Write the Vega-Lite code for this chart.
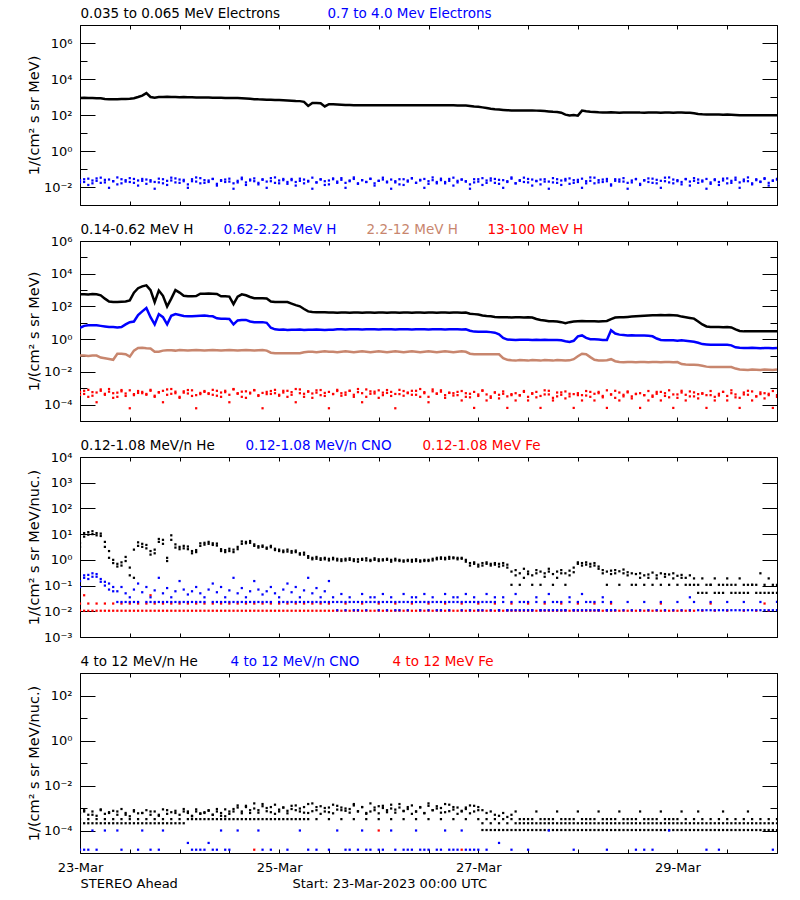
{
"$schema":"https://vega.github.io/schema/vega-lite/v6.json",
"background":"white",
"padding":{"left":25,"top":6,"right":20,"bottom":10},
"bounds":"flush",
"spacing":36,
"config":{
"font":"DejaVu Sans",
"view":{"stroke":"black","strokeWidth":1},
"axis":{"domain":false,"grid":false,"labelFont":"DejaVu Sans","labelFontSize":13,"labelColor":"black","tickColor":"black","tickWidth":1,"titleFont":"DejaVu Sans","titleFontSize":14.5,"titleFontWeight":"normal","titleColor":"black","labelOverlap":false,"labelFlush":false},
"legend":{"orient":"none","legendX":-13,"legendY":-18,"direction":"horizontal","symbolSize":0,"symbolOpacity":0,"symbolStrokeWidth":0,"labelOffset":0,"labelFont":"DejaVu Sans","labelFontSize":13.5,"labelLimit":500,"padding":0}
},
"datasets":{"d":[
{"h":0,"a":880,"b":0.024,"B":0.018,"c":550,"d":5,"e":0.1,"f":6e-4,"F":4e-4,"g":3.2,"G":4.5,"i":0.088,"I":0.15,"j":0.0105,"J":0.02,"k":6e-4,"K":3.2e-4,"L":2.1e-4,"m":1.4e-5},
{"h":1,"a":900,"b":0.019,"B":0.027,"c":560,"d":6.5,"e":0.1,"f":4.5e-4,"F":7e-4,"g":8,"G":11,"i":0.2,"I":0.25,"j":0.0105,"J":0.042,"k":8e-4,"K":7e-4,"L":2.1e-4,"m":1.4e-5},
{"h":2,"a":870,"b":0.029,"B":0.013,"c":540,"d":7,"e":0.095,"f":8e-4,"F":3e-4,"g":12,"G":9.5,"i":0.26,"I":0.18,"j":0.0105,"J":0.02,"k":5e-4,"K":3.2e-4,"L":2.1e-4,"m":1.4e-5},
{"h":3,"a":880,"b":0.016,"B":0.023,"c":570,"d":7,"e":0.1,"f":3.5e-4,"F":5.8e-4,"g":10,"G":13,"i":0.3,"I":0.22,"j":0.0105,"k":7e-4,"K":5e-4,"L":2.1e-4,"m":1e-4},
{"h":4,"a":860,"b":0.022,"B":0.03,"c":560,"d":7,"e":0.1,"f":5.5e-4,"F":1.4e-4,"g":9,"G":11,"i":0.22,"I":0.28,"j":0.0105,"J":0.02,"k":4.5e-4,"K":3.2e-4,"L":2.1e-4,"m":1.4e-5},
{"h":5,"a":850,"b":0.033,"B":0.017,"c":480,"d":6.5,"e":0.075,"f":7e-4,"F":8.5e-4,"g":10.5,"G":8.5,"i":0.18,"I":0.14,"j":0.0105,"k":8.7e-4,"K":8e-4,"L":2.1e-4},
{"h":6,"a":780,"b":0.018,"B":0.025,"c":300,"d":6,"e":0.068,"f":4e-4,"F":4.6e-4,"g":5,"G":3.2,"i":0.14,"I":0.1,"j":0.0105,"J":0.02,"k":5.5e-4,"K":3.2e-4,"L":2.1e-4,"m":1e-4},
{"h":7,"a":740,"b":0.026,"B":0.009,"c":200,"d":5.5,"e":0.062,"f":9e-4,"F":6.2e-4,"g":2.2,"G":1.2,"i":0.12,"I":0.07,"j":0.0105,"k":6.5e-4,"K":6e-4,"L":2.1e-4},
{"h":8,"a":750,"b":0.021,"B":0.021,"c":190,"d":5.5,"e":0.055,"f":5e-4,"F":2.6e-4,"g":1.0,"G":0.75,"i":0.088,"I":0.06,"j":0.0105,"J":0.02,"k":7.5e-4,"K":3.2e-4,"L":2.1e-4},
{"h":9,"a":760,"b":0.014,"B":0.034,"c":185,"d":5.2,"e":0.13,"f":3e-4,"F":5.4e-4,"g":0.7,"G":0.55,"i":0.023,"I":0.06,"j":0.0105,"k":5e-4,"K":7e-4,"L":2.1e-4,"m":1e-4},
{"h":10,"a":770,"b":0.027,"B":0.016,"c":195,"d":5.5,"e":0.13,"f":6.5e-4,"F":7.8e-4,"g":0.8,"G":0.6,"i":0.023,"I":0.088,"j":0.0105,"J":0.02,"k":9e-4,"K":3.2e-4,"L":2.1e-4,"m":1.4e-5},
{"h":11,"a":780,"b":0.02,"B":0.024,"c":200,"d":8,"e":0.12,"f":4.8e-4,"F":3.4e-4,"g":1.3,"G":0.9,"i":0.023,"I":0.05,"j":0.0105,"k":6e-4,"K":5e-4,"L":2.1e-4},
{"h":12,"a":790,"b":0.031,"B":0.019,"c":235,"d":11,"e":0.085,"f":7.5e-4,"F":6e-5,"g":0.5,"G":0.25,"i":0.023,"I":0.035,"j":0.0105,"J":0.02,"k":4.3e-4,"K":3.2e-4,"L":2.1e-4},
{"h":13,"a":850,"b":0.017,"B":0.028,"c":700,"d":12,"e":0.2,"f":3.8e-4,"F":4.4e-4,"g":0.2,"G":2.5,"i":0.023,"I":0.07,"j":0.0105,"k":7e-4,"K":8e-4,"L":2.1e-4},
{"h":14,"a":1000,"b":0.023,"B":0.012,"c":1300,"d":30,"e":0.29,"f":5.2e-4,"F":6.8e-4,"g":3.5,"G":4.8,"i":0.023,"I":0.12,"j":0.0105,"J":0.02,"k":5.8e-4,"K":3.2e-4,"L":2.1e-4,"m":1.4e-5},
{"h":15,"a":1200,"b":0.028,"B":0.022,"c":1700,"d":50,"e":0.3,"f":6e-4,"F":5e-4,"g":3.2,"G":4.2,"I":0.055,"j":0.0105,"k":6e-4,"K":6e-4,"L":2.1e-4,"m":1e-4},
{"h":16,"a":1650,"b":0.015,"B":0.026,"c":1950,"d":80,"e":0.28,"f":4.5e-4,"F":4e-4,"g":3.8,"G":2.8,"i":0.023,"I":0.088,"j":0.0105,"J":0.02,"k":8e-4,"K":3.2e-4,"L":2.1e-4},
{"h":17,"a":1000,"b":0.024,"B":0.02,"c":1000,"d":22,"e":0.27,"f":8e-4,"F":7e-4,"g":2.2,"G":1.6,"i":0.023,"I":0.035,"j":0.0105,"J":0.042,"k":5e-4,"K":7e-4,"L":2.1e-4,"m":1.4e-5},
{"h":18,"a":920,"b":0.019,"B":0.008,"c":180,"d":8,"e":0.17,"f":3.5e-4,"F":3e-4,"g":1.8,"G":2.5,"i":0.023,"I":0.065,"j":0.0105,"J":0.02,"k":7e-4,"K":3.2e-4,"L":2.1e-4},
{"h":19,"a":990,"b":0.029,"B":0.018,"c":950,"d":34,"e":0.17,"f":5.5e-4,"F":5.8e-4,"g":5,"G":6.5,"i":0.023,"I":0.2,"j":0.0105,"k":4.5e-4,"K":5e-4,"L":2.1e-4,"m":1.4e-5},
{"h":20,"a":1010,"b":0.016,"B":0.027,"c":450,"d":22,"e":0.2,"f":7e-4,"F":1.4e-4,"g":6,"G":4.2,"i":0.023,"I":0.05,"j":0.0105,"J":0.02,"k":8.7e-4,"K":3.2e-4,"L":2.1e-4,"m":1e-4},
{"h":21,"a":1040,"b":0.022,"B":0.013,"c":100,"d":8,"e":0.21,"f":4e-4,"F":8.5e-4,"g":1.2,"G":0.9,"i":0.023,"I":0.08,"j":0.0105,"k":5.5e-4,"K":8e-4,"L":2.1e-4},
{"h":22,"a":1000,"b":0.033,"B":0.023,"c":300,"d":27,"e":0.21,"f":9e-4,"F":4.6e-4,"g":9,"G":6,"i":0.023,"I":0.035,"j":0.0105,"J":0.02,"k":6.5e-4,"K":3.2e-4,"L":2.1e-4},
{"h":23,"a":990,"b":0.018,"B":0.03,"c":1000,"d":34,"e":0.2,"f":5e-4,"F":6.2e-4,"g":4,"G":3,"i":0.023,"I":0.06,"j":0.0105,"k":7.5e-4,"K":6e-4,"L":2.1e-4},
{"h":24,"a":980,"b":0.026,"B":0.017,"c":700,"d":30,"e":0.22,"f":3e-4,"F":2.6e-4,"g":3.2,"G":2.6,"i":0.023,"I":0.15,"j":0.0105,"J":0.02,"k":5e-4,"K":3.2e-4,"L":2.1e-4},
{"h":25,"a":990,"b":0.021,"B":0.025,"c":450,"d":26,"e":0.21,"f":6.5e-4,"F":5.4e-4,"g":3.5,"G":2.8,"i":0.023,"I":0.07,"j":0.0105,"k":9e-4,"K":7e-4,"L":2.1e-4},
{"h":26,"a":970,"b":0.014,"B":0.009,"c":420,"d":25,"e":0.2,"f":4.8e-4,"F":7.8e-4,"g":2.6,"G":3.3,"i":0.023,"I":0.045,"j":0.0105,"J":0.02,"k":6e-4,"K":7e-4,"L":3.2e-4,"m":2.8e-5},
{"h":27,"a":960,"b":0.027,"B":0.021,"c":420,"d":25,"e":0.21,"f":7.5e-4,"F":3.4e-4,"g":2.2,"G":1.8,"i":0.023,"I":0.06,"j":0.0105,"k":4.3e-4,"K":4.5e-4,"L":3.2e-4,"m":1.4e-5},
{"h":28,"a":950,"b":0.02,"B":0.034,"c":430,"d":26,"e":0.22,"f":3.8e-4,"F":6e-5,"g":2.4,"G":2.0,"i":0.023,"I":0.088,"j":0.0105,"J":0.02,"k":7e-4,"K":8.7e-4,"L":3.2e-4,"m":1.4e-5},
{"h":29,"a":950,"b":0.031,"B":0.016,"c":600,"d":27,"e":0.21,"f":5.2e-4,"F":4.4e-4,"g":3.5,"G":4.4,"i":0.023,"I":0.05,"j":0.0105,"k":5.8e-4,"K":5.5e-4,"L":3.2e-4,"m":1.4e-5},
{"h":30,"a":940,"b":0.017,"B":0.024,"c":600,"d":28,"e":0.2,"f":6e-4,"F":6.8e-4,"g":4.6,"G":3.9,"i":0.023,"I":0.035,"j":0.0105,"J":0.02,"k":6e-4,"K":6.5e-4,"L":3.2e-4,"m":1.4e-5},
{"h":31,"a":930,"b":0.023,"B":0.019,"c":620,"d":26,"e":0.21,"f":4.5e-4,"F":5e-4,"g":4.2,"G":5.0,"I":0.07,"j":0.0105,"k":8e-4,"K":7.5e-4,"L":3.2e-4,"m":2.8e-5},
{"h":32,"a":920,"b":0.028,"B":0.028,"c":600,"d":25,"e":0.22,"f":8e-4,"F":4e-4,"g":4.4,"G":3.8,"i":0.023,"I":0.12,"j":0.0105,"J":0.02,"k":5e-4,"K":5e-4,"L":3.2e-4,"m":1.4e-5},
{"h":33,"a":910,"b":0.015,"B":0.012,"c":580,"d":19,"e":0.21,"f":3.5e-4,"F":7e-4,"g":3.6,"G":4.3,"i":0.023,"I":0.055,"j":0.0105,"k":7e-4,"K":9e-4,"L":3.2e-4,"m":1.4e-5},
{"h":34,"a":900,"b":0.024,"B":0.022,"c":420,"d":18,"e":0.2,"f":5.5e-4,"F":3e-4,"g":2.6,"G":2.2,"i":0.023,"I":0.088,"j":0.0105,"J":0.02,"k":4.5e-4,"K":6e-4,"L":3.2e-4,"m":1e-4},
{"h":35,"a":890,"b":0.019,"B":0.026,"c":420,"d":18,"e":0.21,"f":7e-4,"F":5.8e-4,"g":2.4,"G":2.0,"i":0.023,"I":0.035,"j":0.0105,"k":8.7e-4,"K":4.3e-4,"L":3.2e-4,"m":1.4e-5},
{"h":36,"a":890,"b":0.029,"B":0.02,"c":400,"d":17,"e":0.22,"f":4e-4,"F":1.4e-4,"g":2.2,"G":2.7,"i":0.023,"I":0.065,"j":0.0105,"J":0.02,"k":5.5e-4,"K":7e-4,"L":3.2e-4,"m":1.4e-5},
{"h":37,"a":880,"b":0.016,"B":0.008,"c":140,"d":8,"e":0.21,"f":9e-4,"F":8.5e-4,"g":2.0,"G":2.5,"i":0.023,"I":0.2,"j":0.0105,"k":9e-4,"K":7e-4,"L":3.2e-4},
{"h":38,"a":870,"b":0.022,"B":0.018,"c":400,"d":14,"e":0.2,"f":5e-4,"F":4.6e-4,"g":2.6,"G":3.2,"i":0.023,"I":0.05,"j":0.0105,"J":0.02,"k":1.3e-3,"K":1.05e-3,"L":3.2e-4,"m":1e-4},
{"h":39,"a":850,"b":0.033,"B":0.027,"c":550,"d":15,"e":0.21,"f":3e-4,"F":6.2e-4,"g":4.2,"G":5.2,"i":0.023,"I":0.08,"j":0.0105,"k":7e-4,"K":5.8e-4,"L":3.2e-4},
{"h":40,"a":820,"b":0.018,"B":0.013,"c":480,"d":15,"e":0.22,"f":6.5e-4,"F":2.6e-4,"g":5.0,"G":4.4,"i":0.023,"I":0.035,"j":0.0105,"J":0.02,"k":1.1e-3,"K":1.25e-3,"L":3.2e-4},
{"h":41,"a":790,"b":0.026,"B":0.023,"c":380,"d":12,"e":0.21,"f":4.8e-4,"F":5.4e-4,"g":4.6,"G":5.4,"i":0.023,"I":0.06,"j":0.0105,"k":6e-4,"K":8e-4,"L":3.2e-4},
{"h":42,"a":760,"b":0.021,"B":0.03,"c":320,"d":11,"e":0.2,"f":7.5e-4,"F":7.8e-4,"g":4.0,"G":3.5,"i":0.023,"I":0.15,"j":0.0105,"J":0.02,"k":1.6e-3,"K":9.5e-4,"L":3.2e-4,"n":1.4e-5},
{"h":43,"a":740,"b":0.014,"B":0.017,"c":320,"d":11,"e":0.21,"f":3.8e-4,"F":3.4e-4,"g":3.4,"G":3.0,"i":0.023,"I":0.07,"j":0.0105,"k":8e-4,"K":6.2e-4,"L":3.2e-4,"m":1e-4},
{"h":44,"a":730,"b":0.027,"B":0.025,"c":320,"d":11,"e":0.22,"f":5.2e-4,"F":6e-5,"g":3.2,"G":3.6,"i":0.023,"I":0.045,"j":0.0105,"J":0.02,"k":1.2e-3,"K":1.5e-3,"L":3.2e-4,"m":1.4e-5},
{"h":45,"a":710,"b":0.02,"B":0.009,"c":310,"d":10,"e":0.2,"f":6e-4,"F":4.4e-4,"g":3.0,"G":2.7,"i":0.023,"I":0.06,"j":0.0105,"k":1e-3,"K":7.2e-4,"L":3.2e-4},
{"h":46,"a":700,"b":0.031,"B":0.021,"c":200,"d":5,"e":0.15,"f":4.5e-4,"F":6.8e-4,"g":3.1,"G":3.5,"i":0.023,"I":0.088,"j":0.0105,"J":0.02,"k":6.5e-4,"K":1.1e-3,"L":3.2e-4,"m":1.4e-5},
{"h":47,"a":690,"b":0.017,"B":0.034,"c":190,"d":4,"e":0.14,"f":8e-4,"F":5e-4,"g":2.7,"G":2.4,"I":0.05,"j":0.0105,"k":1.4e-3,"K":5.5e-4,"L":3.2e-4},
{"h":48,"a":680,"b":0.023,"B":0.016,"c":190,"d":3.8,"e":0.14,"f":3.5e-4,"F":4e-4,"g":2.5,"G":2.2,"i":0.023,"I":0.035,"j":0.0105,"J":0.02,"k":8.5e-4,"K":7e-4,"L":3.2e-4},
{"h":49,"a":660,"b":0.028,"B":0.024,"c":190,"d":3.9,"e":0.14,"f":5.5e-4,"F":7e-4,"g":2.3,"G":2.0,"i":0.023,"I":0.07,"j":0.0105,"k":1.05e-3,"K":1.05e-3,"L":3.2e-4},
{"h":50,"a":640,"b":0.015,"B":0.019,"c":185,"d":3.7,"e":0.14,"f":7e-4,"F":3e-4,"g":2.1,"G":2.5,"i":0.023,"I":0.12,"j":0.0105,"J":0.02,"k":7.5e-4,"K":5.8e-4,"L":3.2e-4,"m":1.4e-5},
{"h":51,"a":620,"b":0.024,"B":0.028,"c":150,"d":3.8,"e":0.14,"f":4e-4,"F":5.8e-4,"g":2.2,"G":1.9,"i":0.023,"I":0.055,"j":0.0105,"k":9e-4,"K":1.25e-3,"L":3.2e-4},
{"h":52,"a":600,"b":0.019,"B":0.012,"c":120,"d":3.8,"e":0.14,"f":9e-4,"F":1.4e-4,"g":2.0,"G":2.3,"i":0.023,"I":0.088,"j":0.0105,"J":0.02,"k":1.3e-3,"K":8e-4,"L":3.2e-4},
{"h":53,"a":590,"b":0.029,"B":0.022,"c":102,"d":3.9,"e":0.14,"f":5e-4,"F":8.5e-4,"g":1.8,"G":1.6,"i":0.023,"I":0.035,"j":0.0105,"k":7e-4,"K":9.5e-4,"L":3.2e-4,"m":1e-4},
{"h":54,"a":540,"b":0.016,"B":0.026,"c":70,"d":3.7,"e":0.16,"f":3e-4,"F":4.6e-4,"g":1.6,"G":1.9,"i":0.023,"I":0.065,"j":0.0105,"J":0.02,"k":1.1e-3,"K":6.2e-4,"L":3.2e-4},
{"h":55,"a":320,"b":0.022,"B":0.02,"c":50,"d":3.8,"e":0.17,"f":6.5e-4,"F":6.2e-4,"g":1.4,"G":1.2,"i":0.023,"I":0.2,"j":0.0105,"k":6e-4,"K":1.5e-3,"L":3.2e-4,"m":1.4e-5},
{"h":56,"a":470,"b":0.033,"B":0.008,"c":46,"d":3.8,"e":0.17,"f":4.8e-4,"F":2.6e-4,"g":1.2,"G":1.05,"i":0.023,"I":0.05,"j":0.0105,"J":0.02,"k":1.6e-3,"K":7.2e-4},
{"h":57,"a":460,"b":0.018,"B":0.018,"c":45,"d":3.9,"e":0.16,"f":7.5e-4,"F":5.4e-4,"g":1.1,"G":1.3,"i":0.023,"I":0.08,"j":0.0105,"k":8e-4,"K":1.1e-3,"L":3.2e-4,"m":1.4e-5},
{"h":58,"a":450,"b":0.026,"B":0.027,"c":44,"d":3.8,"e":0.17,"f":3.8e-4,"F":7.8e-4,"g":1.15,"G":1.0,"i":0.023,"I":0.035,"j":0.0105,"J":0.02,"k":1.2e-3,"K":5.5e-4},
{"h":59,"a":300,"b":0.021,"B":0.013,"c":44,"d":3.7,"e":0.18,"f":5.2e-4,"F":3.4e-4,"g":1.2,"G":1.05,"i":0.023,"I":0.06,"j":0.0105,"k":1e-3,"K":7e-4},
{"h":60,"a":400,"b":0.014,"B":0.023,"c":43,"d":3.8,"e":0.17,"f":6e-4,"F":6e-5,"g":1.1,"G":0.95,"i":0.023,"I":0.15,"j":0.0105,"J":0.02,"k":6.5e-4,"K":1.05e-3,"L":3.2e-4,"m":1.4e-5},
{"h":61,"a":390,"b":0.027,"B":0.03,"c":42,"d":3.8,"e":0.17,"f":4.5e-4,"F":4.4e-4,"g":1.05,"G":1.2,"i":0.023,"I":0.035,"j":0.0105,"k":1.4e-3,"K":5.8e-4},
{"h":62,"a":380,"b":0.02,"B":0.017,"c":41,"d":4,"e":0.16,"f":8e-4,"F":6.8e-4,"g":0.95,"G":1.1,"i":0.023,"I":0.011,"j":0.0105,"k":8.5e-4,"K":1.25e-3,"m":1e-4},
{"h":63,"a":370,"b":0.031,"B":0.025,"c":43,"d":4.1,"e":0.17,"f":3.5e-4,"F":5e-4,"g":1.05,"G":0.9,"i":0.023,"I":0.047,"j":0.0105,"k":1.05e-3,"K":8e-4,"L":3.2e-4},
{"h":64,"a":360,"b":0.017,"B":0.009,"c":42,"d":3.9,"e":0.18,"f":5.5e-4,"F":4e-4,"g":1.1,"G":0.95,"i":0.023,"I":0.011,"j":0.0105,"J":0.02,"k":7.5e-4,"K":9.5e-4,"m":1.4e-5},
{"h":65,"a":355,"b":0.023,"B":0.021,"c":41,"d":4,"e":0.17,"f":7e-4,"F":7e-4,"g":1.0,"G":1.15,"i":0.023,"I":0.035,"j":0.0105,"k":9e-4,"K":6.2e-4,"m":1.4e-5},
{"h":66,"a":350,"b":0.028,"B":0.034,"c":43,"d":4.1,"e":0.16,"f":4e-4,"F":3e-4,"g":0.9,"G":1.05,"i":0.023,"I":0.011,"j":0.0105,"k":1.3e-3,"K":1.5e-3,"L":3.2e-4},
{"h":67,"a":350,"b":0.015,"B":0.016,"c":42,"d":4,"e":0.17,"f":9e-4,"F":5.8e-4,"g":1.05,"G":0.85,"i":0.023,"I":0.011,"j":0.0105,"k":7e-4,"K":7.2e-4,"m":1.4e-5},
{"h":68,"a":348,"b":0.024,"B":0.024,"c":41,"d":3.9,"e":0.18,"f":5e-4,"F":1.4e-4,"g":1.1,"G":1.0,"i":0.023,"I":0.047,"j":0.0105,"J":0.02,"k":1.1e-3,"K":1.1e-3,"m":1e-4},
{"h":69,"a":352,"b":0.019,"B":0.019,"c":43,"d":4,"e":0.17,"f":3e-4,"F":8.5e-4,"g":0.95,"G":1.15,"i":0.023,"I":0.011,"j":0.0105,"k":6e-4,"K":5.5e-4,"L":3.2e-4,"m":1.4e-5},
{"h":70,"a":350,"b":0.029,"B":0.028,"c":42,"d":4.1,"e":0.16,"f":6.5e-4,"F":4.6e-4,"g":1.0,"G":0.9,"i":0.023,"I":0.035,"j":0.0105,"k":1.6e-3,"K":7e-4,"m":1.4e-5},
{"h":71,"a":346,"b":0.016,"B":0.012,"c":41,"d":4,"e":0.17,"f":4.8e-4,"F":6.2e-4,"g":1.15,"G":1.0,"i":0.023,"I":0.035,"j":0.0105,"k":8e-4,"K":1.05e-3},
{"h":72,"a":350,"b":0.022,"B":0.022,"c":43,"d":3.9,"e":0.18,"f":7.5e-4,"F":2.6e-4,"g":0.9,"G":1.05,"i":0.023,"I":0.011,"j":0.0105,"J":0.02,"k":1.2e-3,"K":5.8e-4,"L":3.2e-4,"m":1.4e-5,"n":1e-4},
{"h":73,"a":352,"b":0.033,"B":0.026,"c":42,"d":4,"e":0.17,"f":3.8e-4,"F":5.4e-4,"g":1.05,"G":0.95,"i":0.023,"I":0.047,"j":0.0105,"k":1e-3,"K":1.25e-3,"m":1.4e-5},
{"h":74,"a":348,"b":0.018,"B":0.02,"c":41,"d":4.1,"e":0.16,"f":5.2e-4,"F":7.8e-4,"g":1.0,"G":1.1,"i":0.023,"I":0.011,"j":0.0105,"k":6.5e-4,"K":8e-4},
{"h":75,"a":350,"b":0.026,"B":0.008,"c":43,"d":4,"e":0.17,"f":6e-4,"F":3.4e-4,"g":0.85,"G":1.0,"i":0.023,"I":0.035,"j":0.0105,"k":1.4e-3,"K":9.5e-4,"L":3.2e-4,"m":1e-4},
{"h":76,"a":350,"b":0.021,"B":0.018,"c":42,"d":3.9,"e":0.18,"f":4.5e-4,"F":6e-5,"g":1.1,"G":0.95,"i":0.023,"I":0.011,"j":0.0105,"J":0.02,"k":8.5e-4,"K":6.2e-4,"m":1.4e-5},
{"h":77,"a":346,"b":0.014,"B":0.027,"c":41,"d":4,"e":0.17,"f":8e-4,"F":4.4e-4,"g":1.0,"G":0.9,"i":0.023,"I":0.011,"j":0.0105,"k":1.05e-3,"K":1.5e-3},
{"h":78,"a":350,"b":0.027,"B":0.013,"c":43,"d":4.1,"e":0.16,"f":3.5e-4,"F":6.8e-4,"g":0.95,"G":0.85,"i":0.023,"I":0.047,"j":0.0105,"k":7.5e-4,"K":7.2e-4,"L":3.2e-4,"m":1.4e-5},
{"h":79,"a":352,"b":0.02,"B":0.023,"c":42,"d":4,"e":0.17,"f":5.5e-4,"F":5e-4,"g":0.9,"G":1.0,"i":0.023,"I":0.011,"j":0.0105,"k":9e-4,"K":1.1e-3,"m":1.4e-5},
{"h":80,"a":348,"b":0.031,"B":0.03,"c":41,"d":3.9,"e":0.18,"f":7e-4,"F":4e-4,"g":1.0,"G":0.85,"i":0.023,"I":0.035,"j":0.0105,"J":0.02,"k":1.3e-3,"K":5.5e-4,"m":1.4e-5},
{"h":81,"a":350,"b":0.017,"B":0.017,"c":43,"d":4,"e":0.17,"f":4e-4,"F":7e-4,"g":0.9,"G":1.05,"i":0.023,"I":0.035,"j":0.0105,"k":7e-4,"K":7e-4,"L":3.2e-4,"m":1e-4},
{"h":82,"a":345,"b":0.023,"B":0.025,"c":42,"d":4.1,"e":0.16,"f":9e-4,"F":3e-4,"g":0.95,"G":0.85,"i":0.023,"I":0.011,"j":0.0105,"k":1.1e-3,"K":1.05e-3,"m":1.4e-5},
{"h":83,"a":350,"b":0.028,"B":0.009,"c":41,"d":4,"e":0.17,"f":5e-4,"F":5.8e-4,"g":1.0,"G":0.9,"i":0.023,"I":0.047,"j":0.0105,"k":6e-4,"K":5.8e-4,"m":1.4e-5},
{"h":84,"a":352,"b":0.015,"B":0.021,"c":43,"d":3.9,"e":0.18,"f":3e-4,"F":1.4e-4,"g":0.9,"G":1.0,"i":0.023,"I":0.011,"j":0.0105,"J":0.02,"k":1.6e-3,"K":1.25e-3,"L":3.2e-4,"m":1.4e-5},
{"h":85,"a":348,"b":0.024,"B":0.034,"c":42,"d":4,"e":0.17,"f":6.5e-4,"F":8.5e-4,"g":0.95,"G":1.1,"i":0.023,"I":0.035,"j":0.0105,"k":8e-4,"K":8e-4},
{"h":86,"a":345,"b":0.019,"B":0.016,"c":41,"d":4.1,"e":0.16,"f":4.8e-4,"F":4.6e-4,"g":1.2,"G":1.05,"i":0.023,"I":0.011,"j":0.0105,"k":1.2e-3,"K":9.5e-4,"m":1.4e-5},
{"h":87,"a":350,"b":0.029,"B":0.024,"c":43,"d":4,"e":0.17,"f":7.5e-4,"F":6.2e-4,"g":1.1,"G":1.25,"i":0.023,"I":0.011,"j":0.0105,"k":1e-3,"K":6.2e-4,"L":3.2e-4,"m":1.4e-5},
{"h":88,"a":348,"b":0.016,"B":0.019,"c":42,"d":3.9,"e":0.18,"f":3.8e-4,"F":2.6e-4,"g":1.2,"G":1.05,"i":0.023,"I":0.047,"j":0.0105,"J":0.02,"k":6.5e-4,"K":1.5e-3,"m":1e-4},
{"h":89,"a":346,"b":0.022,"B":0.028,"c":41,"d":4,"e":0.17,"f":5.2e-4,"F":5.4e-4,"g":1.3,"G":1.1,"i":0.023,"I":0.011,"j":0.0105,"k":1.4e-3,"K":7.2e-4,"m":1.4e-5},
{"h":90,"a":345,"b":0.033,"B":0.012,"c":43,"d":4.1,"e":0.16,"f":5e-4,"F":3.6e-4,"g":1.15,"G":1.25,"i":0.023,"I":0.035,"j":0.0105,"k":8.5e-4,"K":1.1e-3,"L":3.2e-4,"m":1.4e-5},
{"h":91,"a":342,"b":0.018,"B":0.022,"c":42,"d":4,"e":0.17,"f":3.8e-4,"F":6e-4,"g":1.2,"G":1.05,"i":0.023,"I":0.035,"j":0.0105,"k":1.05e-3,"K":5.5e-4,"m":1.4e-5},
{"h":92,"a":340,"b":0.026,"B":0.026,"c":41,"d":3.9,"e":0.18,"f":6.8e-4,"F":1.8e-4,"g":1.1,"G":1.2,"i":0.023,"I":0.011,"j":0.0105,"J":0.02,"k":7.5e-4,"K":7e-4,"m":1e-4,"n":1.4e-5},
{"h":93,"a":335,"b":0.021,"B":0.02,"c":42,"d":4,"e":0.17,"f":3e-4,"F":5e-4,"g":1.0,"G":0.85,"i":0.023,"I":0.047,"j":0.0105,"k":9e-4,"K":1.05e-3,"L":3.2e-4,"m":1.4e-5},
{"h":94,"a":320,"b":0.014,"B":0.008,"c":36,"d":3.3,"e":0.13,"f":4.6e-4,"F":2.8e-4,"g":0.75,"G":0.6,"i":0.023,"I":0.011,"j":0.0105,"k":1.3e-3,"K":5.8e-4,"m":1.4e-5},
{"h":95,"a":300,"b":0.027,"B":0.018,"c":34,"d":2.9,"e":0.12,"f":6e-4,"F":6.3e-5,"g":0.7,"G":0.8,"i":0.023,"I":0.035,"j":0.0105,"k":7e-4,"K":1.25e-3,"m":1.4e-5},
{"h":96,"a":285,"b":0.02,"B":0.027,"c":32,"d":2.8,"e":0.12,"f":3.4e-4,"F":4.2e-4,"g":0.65,"G":0.55,"i":0.023,"I":0.011,"j":0.0105,"J":0.02,"k":1.1e-3,"K":8e-4,"L":3.2e-4,"m":1.4e-5},
{"h":97,"a":265,"b":0.031,"B":0.013,"c":28,"d":2.8,"e":0.12,"f":7.5e-4,"F":7e-4,"g":0.75,"G":0.6,"i":0.023,"I":0.011,"j":0.0105,"k":8e-4,"K":2.1e-4,"L":1.05e-4},
{"h":98,"a":245,"b":0.017,"B":0.023,"c":26,"d":2.8,"e":0.12,"f":4.2e-4,"F":1.8e-4,"g":0.7,"G":0.8,"i":0.023,"I":0.047,"j":0.0105,"k":6e-4,"K":3.2e-4,"L":1.05e-4,"m":1.4e-5},
{"h":99,"a":225,"b":0.023,"B":0.03,"c":25,"d":2.7,"e":0.12,"f":2.6e-4,"F":3.2e-4,"g":0.6,"G":0.7,"i":0.023,"I":0.011,"j":0.0105,"k":7e-4,"K":2.1e-4,"L":1.05e-4},
{"h":100,"a":210,"b":0.028,"B":0.017,"c":23,"d":2.5,"e":0.12,"f":5.5e-4,"F":5.6e-4,"g":0.75,"G":0.65,"i":0.023,"I":0.035,"j":0.0105,"J":0.02,"k":5e-4,"K":3.2e-4,"L":1.05e-4},
{"h":101,"a":200,"b":0.015,"B":0.025,"c":22,"d":2,"e":0.12,"f":4e-4,"F":2.4e-4,"g":0.7,"G":0.55,"i":0.011,"I":0.011,"j":0.0105,"k":4.5e-4,"K":2.1e-4,"L":1.05e-4,"m":2.8e-5},
{"h":102,"a":192,"b":0.024,"B":0.009,"c":22,"d":1.2,"e":0.07,"f":6.4e-4,"F":4.6e-4,"g":0.6,"G":0.75,"i":0.023,"I":0.035,"j":0.0105,"k":6e-4,"K":3.2e-4,"L":1.05e-4},
{"h":103,"a":185,"b":0.019,"B":0.021,"c":22,"d":0.95,"e":0.055,"f":3.2e-4,"F":6.3e-5,"g":0.5,"G":0.65,"i":0.011,"I":0.011,"j":0.0105,"k":4e-4,"K":2.1e-4,"L":1.05e-4},
{"h":104,"a":180,"b":0.029,"B":0.034,"c":21,"d":0.93,"e":0.051,"f":4.4e-4,"F":3.8e-4,"g":0.35,"G":0.107,"i":0.023,"I":0.011,"j":0.0105,"J":0.02,"k":5e-4,"K":3.2e-4,"L":1.05e-4,"m":1.4e-5},
{"h":105,"a":180,"b":0.016,"B":0.016,"c":22,"d":0.9,"e":0.049,"f":5e-4,"F":1.8e-4,"g":0.4,"G":0.25,"i":0.011,"I":0.047,"j":0.0105,"k":2.1e-4,"K":7e-4,"L":1.05e-4},
{"h":106,"a":178,"b":0.022,"B":0.024,"c":22,"d":0.93,"e":0.053,"f":3.8e-4,"F":3.6e-4,"g":0.3,"G":0.107,"i":0.023,"I":0.011,"j":0.0105,"k":2.1e-4,"K":3.2e-4,"L":1.05e-4},
{"h":107,"a":176,"b":0.033,"B":0.019,"c":21,"d":0.92,"e":0.051,"f":6.8e-4,"F":6e-4,"g":0.45,"G":0.2,"i":0.011,"I":0.023,"j":0.0105,"k":2.1e-4,"K":3.2e-4,"L":1.05e-4},
{"h":108,"a":178,"b":0.018,"B":0.028,"c":22,"d":0.93,"e":0.049,"f":3e-4,"F":1.8e-4,"g":0.35,"G":0.28,"i":0.023,"I":0.011,"j":0.0105,"J":0.02,"k":2.1e-4,"K":3.2e-4,"L":1.05e-4,"m":1.4e-5},
{"h":109,"a":176,"b":0.026,"B":0.012,"c":21,"d":0.9,"e":0.053,"f":4.6e-4,"F":5e-4,"g":0.25,"G":0.107,"i":0.011,"I":0.011,"j":0.0105,"k":2.1e-4,"K":3.2e-4,"L":1.05e-4},
{"h":110,"a":175,"b":0.021,"B":0.022,"c":17,"d":0.92,"e":0.051,"f":6e-4,"F":2.8e-4,"g":0.4,"G":0.3,"i":0.023,"I":0.035,"j":0.0105,"k":2.1e-4,"K":7e-4,"L":1.05e-4},
{"h":111,"a":172,"b":0.014,"B":0.026,"c":15,"d":0.9,"e":0.049,"f":3.4e-4,"F":6.3e-5,"g":0.35,"G":0.107,"i":0.011,"I":0.011,"j":0.0105,"k":2.1e-4,"K":3.2e-4,"L":1.05e-4},
{"h":112,"a":165,"b":0.027,"B":0.02,"c":14,"d":0.92,"e":0.053,"f":7.5e-4,"F":4.2e-4,"g":0.3,"G":0.22,"i":0.023,"I":0.011,"j":0.0105,"J":0.02,"k":2.1e-4,"K":3.2e-4,"L":1.05e-4},
{"h":113,"a":158,"b":0.02,"B":0.008,"c":12.5,"d":0.9,"e":0.051,"f":4.2e-4,"F":7e-4,"g":0.45,"G":0.35,"i":0.011,"I":0.047,"j":0.0105,"k":2.1e-4,"K":3.2e-4,"L":1.05e-4,"m":1e-4},
{"h":114,"a":152,"b":0.031,"B":0.018,"c":12.5,"d":0.88,"e":0.049,"f":2.6e-4,"F":1.8e-4,"g":0.28,"G":0.107,"i":0.023,"I":0.011,"j":0.0105,"k":2.1e-4,"K":3.2e-4,"L":1.05e-4},
{"h":115,"a":148,"b":0.017,"B":0.027,"c":12,"d":0.9,"e":0.053,"f":5.5e-4,"F":3.2e-4,"g":0.35,"G":0.2,"i":0.011,"I":0.023,"j":0.0105,"k":2.1e-4,"K":7e-4,"L":1.05e-4},
{"h":116,"a":135,"b":0.023,"B":0.013,"c":11,"d":0.85,"e":0.051,"f":4e-4,"F":5.6e-4,"g":0.4,"G":0.3,"i":0.023,"I":0.011,"j":0.0105,"J":0.02,"k":2.1e-4,"K":3.2e-4,"L":1.05e-4},
{"h":117,"a":105,"b":0.028,"B":0.023,"c":9.5,"d":0.75,"e":0.049,"f":6.4e-4,"F":2.4e-4,"g":0.3,"G":0.107,"i":0.011,"I":0.011,"j":0.0105,"k":2.1e-4,"K":3.2e-4,"L":1.05e-4},
{"h":118,"a":95,"b":0.015,"B":0.03,"c":11,"d":0.68,"e":0.051,"f":3.2e-4,"F":4.6e-4,"g":0.38,"G":0.25,"i":0.023,"I":0.035,"j":0.0105,"k":2.1e-4,"K":3.2e-4,"L":1.05e-4},
{"h":119,"a":100,"b":0.024,"B":0.017,"c":12,"d":0.8,"e":0.06,"f":4.4e-4,"F":6.3e-5,"g":0.5,"G":0.33,"i":0.011,"I":0.011,"j":0.0105,"k":2.1e-4,"K":3.2e-4,"L":1.05e-4,"m":1.4e-5},
{"h":120,"a":92,"b":0.019,"B":0.025,"c":12.5,"d":1.5,"e":0.09,"f":5e-4,"F":3.8e-4,"g":0.7,"G":0.8,"i":0.023,"I":0.011,"j":0.0105,"J":0.02,"k":2.1e-4,"K":7e-4,"L":1.05e-4},
{"h":121,"a":175,"b":0.029,"B":0.009,"c":13,"d":1.7,"e":0.13,"f":3.8e-4,"F":1.8e-4,"g":0.75,"G":0.6,"i":0.011,"I":0.047,"j":0.0105,"k":2.1e-4,"K":3.2e-4,"L":1.05e-4},
{"h":122,"a":160,"b":0.016,"B":0.021,"c":12.5,"d":1.2,"e":0.12,"f":6.8e-4,"F":3.6e-4,"g":0.8,"G":0.65,"i":0.023,"I":0.011,"j":0.0105,"k":2.1e-4,"K":3.2e-4,"L":1.05e-4},
{"h":123,"a":150,"b":0.022,"B":0.034,"c":12.5,"d":1.0,"e":0.08,"f":3e-4,"F":6e-4,"g":0.7,"G":0.55,"i":0.011,"I":0.023,"j":0.0105,"k":2.1e-4,"K":3.2e-4,"L":1.05e-4},
{"h":124,"a":145,"b":0.033,"B":0.016,"c":12.5,"d":1.0,"e":0.055,"f":4.6e-4,"F":1.8e-4,"g":0.6,"G":0.75,"i":0.023,"I":0.011,"j":0.0105,"J":0.02,"k":2.1e-4,"K":3.2e-4,"L":1.05e-4},
{"h":125,"a":140,"b":0.018,"B":0.024,"c":12,"d":0.95,"e":0.05,"f":6e-4,"F":5e-4,"g":0.55,"G":0.45,"i":0.011,"I":0.011,"j":0.0105,"k":2.1e-4,"K":7e-4,"L":1.05e-4},
{"h":126,"a":138,"b":0.026,"B":0.019,"c":12.5,"d":0.9,"e":0.05,"f":3.4e-4,"F":2.8e-4,"g":0.4,"G":0.3,"i":0.023,"I":0.035,"j":0.0105,"k":2.1e-4,"K":3.2e-4,"L":1.05e-4},
{"h":127,"a":136,"b":0.021,"B":0.028,"c":13,"d":0.9,"e":0.052,"f":7.5e-4,"F":6.3e-5,"g":0.35,"G":0.107,"i":0.011,"I":0.011,"j":0.0105,"k":2.1e-4,"K":3.2e-4,"L":1.05e-4,"m":1.4e-5},
{"h":128,"a":140,"b":0.014,"B":0.012,"c":17,"d":3.5,"e":0.06,"f":4.2e-4,"F":4.2e-4,"g":0.38,"G":0.28,"i":0.023,"I":0.011,"j":0.0105,"J":0.02,"k":2.1e-4,"K":3.2e-4,"L":1.05e-4},
{"h":129,"a":137,"b":0.027,"B":0.022,"c":21,"d":2.2,"e":0.045,"f":2.6e-4,"F":7e-4,"g":0.3,"G":0.4,"i":0.011,"j":0.0105,"k":2.1e-4,"K":3.2e-4,"L":1.05e-4},
{"h":130,"a":135,"b":0.02,"B":0.026,"c":22,"d":1.9,"e":0.04,"f":5.5e-4,"F":1.8e-4,"g":0.36,"G":0.107,"j":0.0105,"k":2.1e-4,"K":7e-4,"L":1.05e-4},
{"h":131,"a":138,"b":0.031,"B":0.02,"c":22,"d":1.8,"e":0.039,"f":4e-4,"F":3.2e-4,"g":0.42,"G":0.3,"i":0.011,"j":0.0105,"k":2.1e-4,"K":3.2e-4,"L":1.05e-4},
{"h":132,"a":136,"b":0.017,"B":0.008,"c":23,"d":1.7,"e":0.041,"f":6.4e-4,"F":5.6e-4,"g":0.33,"G":0.25,"I":0.023,"j":0.0105,"k":2.1e-4,"K":3.2e-4,"L":1.05e-4},
{"h":133,"a":137,"b":0.023,"B":0.018,"c":24,"d":1.75,"e":0.04,"f":3.2e-4,"F":2.4e-4,"g":0.3,"G":0.107,"i":0.011,"j":0.0105,"k":2.1e-4,"K":3.2e-4,"L":1.05e-4},
{"h":134,"a":139,"b":0.028,"B":0.027,"c":25,"d":1.7,"e":0.039,"f":4.4e-4,"F":4.6e-4,"g":0.28,"G":0.107,"j":0.0105,"k":2.1e-4,"K":3.2e-4,"L":1.05e-4,"m":1.4e-5},
{"h":135,"a":136,"b":0.015,"B":0.013,"c":26,"d":1.65,"e":0.041,"f":5e-4,"F":6.3e-5,"g":0.3,"G":0.2,"i":0.011,"j":0.0105,"k":2.1e-4,"K":7e-4,"L":1.05e-4},
{"h":136,"a":135,"b":0.024,"B":0.023,"c":27,"d":1.7,"e":0.04,"f":3.8e-4,"F":3.8e-4,"g":0.25,"G":0.107,"I":0.023,"j":0.0105,"k":2.1e-4,"K":3.2e-4,"L":1.05e-4,"m":1.4e-5},
{"h":137,"a":137,"b":0.019,"B":0.03,"c":28,"d":1.6,"e":0.039,"f":6.8e-4,"F":1.8e-4,"g":0.27,"G":0.2,"i":0.011,"j":0.0105,"k":2.1e-4,"K":3.2e-4,"L":1.05e-4},
{"h":138,"a":138,"b":0.029,"B":0.017,"c":29,"d":1.5,"e":0.041,"f":3e-4,"F":3.6e-4,"g":0.32,"G":0.107,"j":0.0105,"k":2.1e-4,"K":3.2e-4,"L":1.05e-4,"m":1.4e-5},
{"h":139,"a":136,"b":0.016,"B":0.025,"c":29,"d":1.1,"e":0.04,"f":4.6e-4,"F":6e-4,"g":0.25,"G":0.19,"i":0.011,"j":0.0105,"k":2.1e-4,"K":3.2e-4,"L":1.05e-4},
{"h":140,"a":134,"b":0.022,"B":0.009,"c":30,"d":0.9,"e":0.039,"f":6e-4,"F":1.8e-4,"g":0.3,"G":0.107,"I":0.023,"j":0.0105,"J":0.02,"k":2.1e-4,"K":7e-4,"L":1.05e-4},
{"h":141,"a":137,"b":0.033,"B":0.021,"c":29,"d":0.85,"e":0.041,"f":3.4e-4,"F":5e-4,"g":0.22,"G":0.28,"i":0.011,"j":0.0105,"k":2.1e-4,"K":3.2e-4,"L":1.05e-4},
{"h":142,"a":138,"b":0.018,"B":0.034,"c":30,"d":0.85,"e":0.04,"f":7.5e-4,"F":2.8e-4,"g":0.27,"G":0.107,"j":0.0105,"k":2.1e-4,"K":3.2e-4,"L":1.05e-4,"m":1e-4},
{"h":143,"a":135,"b":0.026,"B":0.016,"c":29,"d":0.85,"e":0.039,"f":4.2e-4,"F":6.3e-5,"g":0.3,"G":0.19,"i":0.011,"j":0.0105,"k":2.1e-4,"K":3.2e-4,"L":1.05e-4},
{"h":144,"a":136,"b":0.021,"B":0.024,"c":28,"d":0.8,"e":0.04,"f":2.6e-4,"F":4.2e-4,"g":0.24,"G":0.107,"I":0.023,"j":0.0105,"k":2.1e-4,"K":3.2e-4,"L":1.05e-4},
{"h":145,"a":137,"b":0.014,"B":0.019,"c":24,"d":0.85,"e":0.03,"f":5.5e-4,"F":7e-4,"g":0.26,"G":0.2,"i":0.011,"j":0.0105,"k":2.1e-4,"K":7e-4,"L":1.05e-4},
{"h":146,"a":134,"b":0.027,"B":0.028,"c":22,"d":0.8,"e":0.028,"f":4e-4,"F":1.8e-4,"g":0.2,"G":0.107,"j":0.0105,"k":2.1e-4,"K":3.2e-4,"L":1.05e-4},
{"h":147,"a":132,"b":0.02,"B":0.012,"c":20,"d":0.75,"e":0.027,"f":6.4e-4,"F":3.2e-4,"g":0.25,"G":0.107,"i":0.011,"I":0.035,"j":0.0105,"k":2.1e-4,"L":1.05e-4},
{"h":148,"a":125,"b":0.031,"B":0.022,"c":18,"d":0.7,"e":0.027,"f":3.2e-4,"F":5.6e-4,"g":0.19,"G":0.107,"I":0.023,"j":0.0105,"k":2.1e-4,"K":3.2e-4,"L":1.05e-4},
{"h":149,"a":115,"b":0.017,"B":0.026,"c":12,"d":0.6,"e":0.026,"f":4.4e-4,"F":2.4e-4,"g":0.107,"G":0.052,"i":0.011,"k":2.1e-4,"K":7e-4,"L":1.05e-4},
{"h":150,"a":110,"b":0.023,"B":0.02,"c":8,"d":0.5,"e":0.024,"f":5e-4,"F":4.6e-4,"g":0.19,"G":0.052,"i":0.011,"j":0.0105,"k":2.1e-4,"K":3.2e-4,"L":1.05e-4},
{"h":151,"a":108,"b":0.028,"B":0.008,"c":6,"d":0.48,"e":0.021,"f":3.8e-4,"F":6.3e-5,"g":0.107,"G":0.052,"i":0.011,"k":2.1e-4,"L":1.05e-4,"m":1.4e-5},
{"h":152,"a":106,"b":0.015,"B":0.018,"c":5.5,"d":0.46,"e":0.02,"f":6.8e-4,"F":3.8e-4,"g":0.107,"G":0.107,"i":0.011,"I":0.023,"J":0.02,"k":2.1e-4,"K":3.2e-4,"L":1.05e-4},
{"h":153,"a":105,"b":0.024,"B":0.027,"c":5.5,"d":0.46,"e":0.02,"f":3e-4,"F":1.8e-4,"g":0.19,"G":0.052,"i":0.011,"j":0.0105,"k":2.1e-4,"L":1.05e-4},
{"h":154,"a":106,"b":0.019,"B":0.013,"c":5.5,"d":0.45,"e":0.02,"f":4.6e-4,"F":3.6e-4,"g":0.107,"G":0.052,"i":0.011,"k":2.1e-4,"K":3.2e-4,"L":1.05e-4,"m":1.4e-5},
{"h":155,"a":104,"b":0.029,"B":0.023,"c":5.4,"d":0.46,"e":0.02,"f":6e-4,"F":6e-4,"g":0.107,"G":0.052,"i":0.011,"k":2.1e-4,"K":7e-4,"L":1.05e-4},
{"h":156,"a":105,"b":0.016,"B":0.03,"c":5.5,"d":0.45,"e":0.02,"f":3.4e-4,"F":1.8e-4,"g":0.107,"G":0.19,"i":0.011,"I":0.023,"j":0.0105,"k":2.1e-4,"K":3.2e-4,"L":1.05e-4},
{"h":157,"a":103,"b":0.022,"B":0.017,"c":5.2,"d":0.42,"e":0.02,"f":7.5e-4,"F":5e-4,"g":0.107,"G":0.052,"i":0.011,"k":2.1e-4,"L":1.05e-4},
{"h":158,"a":100,"b":0.033,"B":0.025,"c":4,"d":0.32,"e":0.016,"f":4.2e-4,"F":2.8e-4,"g":0.107,"G":0.052,"i":0.011,"k":2.1e-4,"K":3.2e-4,"L":1.05e-4},
{"h":159,"a":96,"b":0.018,"B":0.009,"c":3.2,"d":0.3,"e":0.014,"f":2.6e-4,"F":6.3e-5,"g":0.19,"G":0.052,"i":0.011,"k":2.1e-4,"L":1.05e-4},
{"h":160,"a":98,"b":0.026,"B":0.021,"c":3,"d":0.29,"e":0.0136,"f":5.5e-4,"F":4.2e-4,"g":0.107,"G":0.052,"i":0.011,"I":0.023,"j":0.0105,"k":2.1e-4,"K":3.2e-4,"L":1.05e-4},
{"h":161,"a":97,"b":0.021,"B":0.034,"c":3,"d":0.29,"e":0.013,"f":4e-4,"F":7e-4,"g":0.107,"G":0.052,"i":0.011,"k":2.1e-4,"K":7e-4,"L":1.05e-4},
{"h":162,"a":98,"b":0.014,"B":0.016,"c":3,"d":0.3,"e":0.014,"f":6.4e-4,"F":1.8e-4,"g":0.107,"G":0.107,"i":0.011,"k":2.1e-4,"K":3.2e-4,"L":1.05e-4},
{"h":163,"a":97,"b":0.027,"B":0.024,"c":3,"d":0.29,"e":0.0136,"f":3.2e-4,"F":3.2e-4,"g":0.107,"G":0.052,"i":0.011,"j":0.0105,"k":2.1e-4,"L":1.05e-4},
{"h":164,"a":96,"b":0.02,"B":0.019,"c":3,"d":0.28,"e":0.013,"f":4.4e-4,"F":5.6e-4,"g":0.3,"G":0.052,"i":0.011,"I":0.023,"k":2.1e-4,"K":3.2e-4,"L":1.05e-4},
{"h":165,"a":97,"b":0.031,"B":0.028,"c":3,"d":0.29,"e":0.014,"f":5e-4,"F":2.4e-4,"g":0.107,"G":0.052,"i":0.011,"J":0.02,"k":2.1e-4,"L":1.05e-4},
{"h":166,"a":98,"b":0.017,"B":0.012,"c":3,"d":0.29,"e":0.0136,"f":3.8e-4,"F":4.6e-4,"g":0.19,"G":0.052,"i":0.011,"j":0.0105,"k":2.1e-4,"K":3.2e-4,"L":1.05e-4},
{"h":167,"a":97,"b":0.023,"B":0.022,"c":3,"d":0.28,"e":0.013,"f":6.8e-4,"F":6.3e-5,"g":0.107,"G":0.052,"i":0.011,"k":2.1e-4,"L":1.05e-4,"m":1.4e-5},
{"h":168,"a":98,"b":0.028,"B":0.026,"c":3,"d":0.29,"e":0.014,"f":3e-4,"F":3.8e-4,"g":0.107,"G":0.052,"i":0.011,"I":0.023,"k":2.1e-4,"K":3.2e-4,"L":1.05e-4}
]},
"resolve":{"scale":{"x":"independent","y":"independent","color":"independent"},"legend":{"color":"independent"}},
"vconcat":[
{"width":697,"height":180,"data":{"name":"d"},
"resolve":{"axis":{"x":"independent","y":"independent"}},
"layer":[
{"mark":{"type":"line","strokeWidth":2.5,"clip":true},"transform":[{"filter":{"field":"a","valid":true}}],
"encoding":{
"x":{"field":"h","type":"quantitative","scale":{"domain":[0,168],"nice":false,"zero":false},"axis":{"orient":"bottom","values":[0,12,24,36,48,60,72,84,96,108,120,132,144,156,168],"tickSize":-4,"labels":false,"title":null}},
"y":{"field":"a","type":"quantitative","scale":{"type":"log","domain":[0.001,10000000],"nice":false},"axis":{"orient":"left","values":[0.001,0.01,0.1,1,10,100,1000,10000,100000,1000000,10000000],"tickSize":{"condition":{"test":"abs(round(log(datum.value)/LN10)) % 2 == 0","value":-15},"value":-7},"labelPadding":23,"labelExpr":"abs(round(log(datum.value)/LN10)) % 2 == 0 ? '10' + (datum.value < 1 ? '⁻' : '') + ['⁰','¹','²','³','⁴','⁵','⁶','⁷','⁸','⁹'][abs(round(log(datum.value)/LN10))] : ''","title":"1/(cm² s sr MeV)","titleX":-46,"titleY":90,"titleBaseline":"middle"}},
"color":{"datum":"0.035 to 0.065 MeV Electrons","scale":{"domain":["0.035 to 0.065 MeV Electrons","0.7 to 4.0 Mev Electrons"],"range":["black","blue"]},"legend":{"title":null,"columnPadding":33,"labelColor":{"expr":"datum.value == '0.7 to 4.0 Mev Electrons' ? 'blue' : 'black'"}}}
}},
{"mark":{"type":"square","size":5,"opacity":1,"clip":true},"transform":[{"filter":{"field":"b","valid":true}}],
"encoding":{
"x":{"field":"h","type":"quantitative","scale":{"domain":[0,168],"nice":false,"zero":false},"axis":{"orient":"top","values":[0,12,24,36,48,60,72,84,96,108,120,132,144,156,168],"tickSize":-4,"labels":false,"title":null}},
"y":{"field":"b","type":"quantitative","scale":{"type":"log","domain":[0.001,10000000],"nice":false},"axis":{"orient":"right","values":[0.001,0.01,0.1,1,10,100,1000,10000,100000,1000000,10000000],"tickSize":{"condition":{"test":"abs(round(log(datum.value)/LN10)) % 2 == 0","value":-15},"value":-7},"labels":false,"title":null}},
"color":{"datum":"0.7 to 4.0 Mev Electrons","scale":{"domain":["0.035 to 0.065 MeV Electrons","0.7 to 4.0 Mev Electrons"],"range":["black","blue"]},"legend":{"title":null,"columnPadding":33,"labelColor":{"expr":"datum.value == '0.7 to 4.0 Mev Electrons' ? 'blue' : 'black'"}}}
}},
{"mark":{"type":"square","size":5,"opacity":1,"clip":true},"transform":[{"filter":{"field":"B","valid":true}}],
"encoding":{
"x":{"field":"h","type":"quantitative","scale":{"domain":[0,168],"nice":false,"zero":false},"axis":null},
"y":{"field":"B","type":"quantitative","scale":{"type":"log","domain":[0.001,10000000],"nice":false},"axis":null},
"color":{"datum":"0.7 to 4.0 Mev Electrons","scale":{"domain":["0.035 to 0.065 MeV Electrons","0.7 to 4.0 Mev Electrons"],"range":["black","blue"]},"legend":{"title":null,"columnPadding":33,"labelColor":{"expr":"datum.value == '0.7 to 4.0 Mev Electrons' ? 'blue' : 'black'"}}}
}}
]},
{"width":697,"height":180,"data":{"name":"d"},
"resolve":{"axis":{"x":"independent","y":"independent"}},
"layer":[
{"mark":{"type":"line","strokeWidth":2.5,"clip":true},"transform":[{"filter":{"field":"c","valid":true}}],
"encoding":{
"x":{"field":"h","type":"quantitative","scale":{"domain":[0,168],"nice":false,"zero":false},"axis":{"orient":"bottom","values":[0,12,24,36,48,60,72,84,96,108,120,132,144,156,168],"tickSize":-4,"labels":false,"title":null}},
"y":{"field":"c","type":"quantitative","scale":{"type":"log","domain":[0.00001,1000000],"nice":false},"axis":{"orient":"left","values":[0.00001,0.0001,0.001,0.01,0.1,1,10,100,1000,10000,100000,1000000],"tickSize":{"condition":{"test":"abs(round(log(datum.value)/LN10)) % 2 == 0","value":-15},"value":-7},"labelPadding":23,"labelExpr":"abs(round(log(datum.value)/LN10)) % 2 == 0 ? '10' + (datum.value < 1 ? '⁻' : '') + ['⁰','¹','²','³','⁴','⁵','⁶','⁷','⁸','⁹'][abs(round(log(datum.value)/LN10))] : ''","title":"1/(cm² s sr MeV)","titleX":-46,"titleY":90,"titleBaseline":"middle"}},
"color":{"datum":"0.14-0.62 MeV H","scale":{"domain":["0.14-0.62 MeV H","0.62-2.22 MeV H","2.2-12 MeV H","13-100 MeV H"],"range":["black","blue","#c8866e","red"]},"legend":{"title":null,"columnPadding":16,"labelColor":{"expr":"datum.value == '0.62-2.22 MeV H' ? 'blue' : datum.value == '2.2-12 MeV H' ? '#c8866e' : datum.value == '13-100 MeV H' ? 'red' : 'black'"}}}
}},
{"mark":{"type":"line","strokeWidth":2.5,"clip":true},"transform":[{"filter":{"field":"d","valid":true}}],
"encoding":{
"x":{"field":"h","type":"quantitative","scale":{"domain":[0,168],"nice":false,"zero":false},"axis":{"orient":"top","values":[0,12,24,36,48,60,72,84,96,108,120,132,144,156,168],"tickSize":-4,"labels":false,"title":null}},
"y":{"field":"d","type":"quantitative","scale":{"type":"log","domain":[0.00001,1000000],"nice":false},"axis":{"orient":"right","values":[0.00001,0.0001,0.001,0.01,0.1,1,10,100,1000,10000,100000,1000000],"tickSize":{"condition":{"test":"abs(round(log(datum.value)/LN10)) % 2 == 0","value":-15},"value":-7},"labels":false,"title":null}},
"color":{"datum":"0.62-2.22 MeV H","scale":{"domain":["0.14-0.62 MeV H","0.62-2.22 MeV H","2.2-12 MeV H","13-100 MeV H"],"range":["black","blue","#c8866e","red"]},"legend":{"title":null,"columnPadding":16,"labelColor":{"expr":"datum.value == '0.62-2.22 MeV H' ? 'blue' : datum.value == '2.2-12 MeV H' ? '#c8866e' : datum.value == '13-100 MeV H' ? 'red' : 'black'"}}}
}},
{"mark":{"type":"line","strokeWidth":2.5,"clip":true},"transform":[{"filter":{"field":"e","valid":true}}],
"encoding":{
"x":{"field":"h","type":"quantitative","scale":{"domain":[0,168],"nice":false,"zero":false},"axis":null},
"y":{"field":"e","type":"quantitative","scale":{"type":"log","domain":[0.00001,1000000],"nice":false},"axis":null},
"color":{"datum":"2.2-12 MeV H","scale":{"domain":["0.14-0.62 MeV H","0.62-2.22 MeV H","2.2-12 MeV H","13-100 MeV H"],"range":["black","blue","#c8866e","red"]},"legend":{"title":null,"columnPadding":16,"labelColor":{"expr":"datum.value == '0.62-2.22 MeV H' ? 'blue' : datum.value == '2.2-12 MeV H' ? '#c8866e' : datum.value == '13-100 MeV H' ? 'red' : 'black'"}}}
}},
{"mark":{"type":"square","size":5,"opacity":1,"clip":true},"transform":[{"filter":{"field":"f","valid":true}}],
"encoding":{
"x":{"field":"h","type":"quantitative","scale":{"domain":[0,168],"nice":false,"zero":false},"axis":null},
"y":{"field":"f","type":"quantitative","scale":{"type":"log","domain":[0.00001,1000000],"nice":false},"axis":null},
"color":{"datum":"13-100 MeV H","scale":{"domain":["0.14-0.62 MeV H","0.62-2.22 MeV H","2.2-12 MeV H","13-100 MeV H"],"range":["black","blue","#c8866e","red"]},"legend":{"title":null,"columnPadding":16,"labelColor":{"expr":"datum.value == '0.62-2.22 MeV H' ? 'blue' : datum.value == '2.2-12 MeV H' ? '#c8866e' : datum.value == '13-100 MeV H' ? 'red' : 'black'"}}}
}},
{"mark":{"type":"square","size":5,"opacity":1,"clip":true},"transform":[{"filter":{"field":"F","valid":true}}],
"encoding":{
"x":{"field":"h","type":"quantitative","scale":{"domain":[0,168],"nice":false,"zero":false},"axis":null},
"y":{"field":"F","type":"quantitative","scale":{"type":"log","domain":[0.00001,1000000],"nice":false},"axis":null},
"color":{"datum":"13-100 MeV H","scale":{"domain":["0.14-0.62 MeV H","0.62-2.22 MeV H","2.2-12 MeV H","13-100 MeV H"],"range":["black","blue","#c8866e","red"]},"legend":{"title":null,"columnPadding":16,"labelColor":{"expr":"datum.value == '0.62-2.22 MeV H' ? 'blue' : datum.value == '2.2-12 MeV H' ? '#c8866e' : datum.value == '13-100 MeV H' ? 'red' : 'black'"}}}
}}
]},
{"width":697,"height":180,"data":{"name":"d"},
"resolve":{"axis":{"x":"independent","y":"independent"}},
"layer":[
{"mark":{"type":"square","size":5,"opacity":1,"clip":true},"transform":[{"filter":{"field":"g","valid":true}}],
"encoding":{
"x":{"field":"h","type":"quantitative","scale":{"domain":[0,168],"nice":false,"zero":false},"axis":{"orient":"bottom","values":[0,12,24,36,48,60,72,84,96,108,120,132,144,156,168],"tickSize":-4,"labels":false,"title":null}},
"y":{"field":"g","type":"quantitative","scale":{"type":"log","domain":[0.001,10000],"nice":false},"axis":{"orient":"left","values":[0.001,0.01,0.1,1,10,100,1000,10000],"tickSize":-15,"labelPadding":23,"labelExpr":"'10' + (datum.value < 1 ? '⁻' : '') + ['⁰','¹','²','³','⁴','⁵','⁶','⁷','⁸','⁹'][abs(round(log(datum.value)/LN10))]","title":"1/(cm² s sr MeV/nuc.)","titleX":-46,"titleY":90,"titleBaseline":"middle"}},
"color":{"datum":"0.12-1.08 MeV/n He","scale":{"domain":["0.12-1.08 MeV/n He","0.12-1.08 MeV/n CNO","0.12-1.08 MeV Fe"],"range":["black","blue","red"]},"legend":{"title":null,"columnPadding":17,"labelColor":{"expr":"datum.value == '0.12-1.08 MeV/n CNO' ? 'blue' : datum.value == '0.12-1.08 MeV Fe' ? 'red' : 'black'"}}}
}},
{"mark":{"type":"square","size":5,"opacity":1,"clip":true},"transform":[{"filter":{"field":"G","valid":true}}],
"encoding":{
"x":{"field":"h","type":"quantitative","scale":{"domain":[0,168],"nice":false,"zero":false},"axis":{"orient":"top","values":[0,12,24,36,48,60,72,84,96,108,120,132,144,156,168],"tickSize":-4,"labels":false,"title":null}},
"y":{"field":"G","type":"quantitative","scale":{"type":"log","domain":[0.001,10000],"nice":false},"axis":{"orient":"right","values":[0.001,0.01,0.1,1,10,100,1000,10000],"tickSize":-15,"labels":false,"title":null}},
"color":{"datum":"0.12-1.08 MeV/n He","scale":{"domain":["0.12-1.08 MeV/n He","0.12-1.08 MeV/n CNO","0.12-1.08 MeV Fe"],"range":["black","blue","red"]},"legend":{"title":null,"columnPadding":17,"labelColor":{"expr":"datum.value == '0.12-1.08 MeV/n CNO' ? 'blue' : datum.value == '0.12-1.08 MeV Fe' ? 'red' : 'black'"}}}
}},
{"mark":{"type":"square","size":5,"opacity":1,"clip":true},"transform":[{"filter":{"field":"j","valid":true}}],
"encoding":{
"x":{"field":"h","type":"quantitative","scale":{"domain":[0,168],"nice":false,"zero":false},"axis":null},
"y":{"field":"j","type":"quantitative","scale":{"type":"log","domain":[0.001,10000],"nice":false},"axis":null},
"color":{"datum":"0.12-1.08 MeV Fe","scale":{"domain":["0.12-1.08 MeV/n He","0.12-1.08 MeV/n CNO","0.12-1.08 MeV Fe"],"range":["black","blue","red"]},"legend":{"title":null,"columnPadding":17,"labelColor":{"expr":"datum.value == '0.12-1.08 MeV/n CNO' ? 'blue' : datum.value == '0.12-1.08 MeV Fe' ? 'red' : 'black'"}}}
}},
{"mark":{"type":"square","size":5,"opacity":1,"clip":true},"transform":[{"filter":{"field":"J","valid":true}}],
"encoding":{
"x":{"field":"h","type":"quantitative","scale":{"domain":[0,168],"nice":false,"zero":false},"axis":null},
"y":{"field":"J","type":"quantitative","scale":{"type":"log","domain":[0.001,10000],"nice":false},"axis":null},
"color":{"datum":"0.12-1.08 MeV Fe","scale":{"domain":["0.12-1.08 MeV/n He","0.12-1.08 MeV/n CNO","0.12-1.08 MeV Fe"],"range":["black","blue","red"]},"legend":{"title":null,"columnPadding":17,"labelColor":{"expr":"datum.value == '0.12-1.08 MeV/n CNO' ? 'blue' : datum.value == '0.12-1.08 MeV Fe' ? 'red' : 'black'"}}}
}},
{"mark":{"type":"square","size":5,"opacity":1,"clip":true},"transform":[{"filter":{"field":"i","valid":true}}],
"encoding":{
"x":{"field":"h","type":"quantitative","scale":{"domain":[0,168],"nice":false,"zero":false},"axis":null},
"y":{"field":"i","type":"quantitative","scale":{"type":"log","domain":[0.001,10000],"nice":false},"axis":null},
"color":{"datum":"0.12-1.08 MeV/n CNO","scale":{"domain":["0.12-1.08 MeV/n He","0.12-1.08 MeV/n CNO","0.12-1.08 MeV Fe"],"range":["black","blue","red"]},"legend":{"title":null,"columnPadding":17,"labelColor":{"expr":"datum.value == '0.12-1.08 MeV/n CNO' ? 'blue' : datum.value == '0.12-1.08 MeV Fe' ? 'red' : 'black'"}}}
}},
{"mark":{"type":"square","size":5,"opacity":1,"clip":true},"transform":[{"filter":{"field":"I","valid":true}}],
"encoding":{
"x":{"field":"h","type":"quantitative","scale":{"domain":[0,168],"nice":false,"zero":false},"axis":null},
"y":{"field":"I","type":"quantitative","scale":{"type":"log","domain":[0.001,10000],"nice":false},"axis":null},
"color":{"datum":"0.12-1.08 MeV/n CNO","scale":{"domain":["0.12-1.08 MeV/n He","0.12-1.08 MeV/n CNO","0.12-1.08 MeV Fe"],"range":["black","blue","red"]},"legend":{"title":null,"columnPadding":17,"labelColor":{"expr":"datum.value == '0.12-1.08 MeV/n CNO' ? 'blue' : datum.value == '0.12-1.08 MeV Fe' ? 'red' : 'black'"}}}
}}
]},
{"width":697,"height":180,"data":{"name":"d"},
"resolve":{"axis":{"x":"independent","y":"independent"}},
"layer":[
{"mark":{"type":"square","size":5,"opacity":1,"clip":true},"transform":[{"filter":{"field":"k","valid":true}}],
"encoding":{
"x":{"field":"h","type":"quantitative","scale":{"domain":[0,168],"nice":false,"zero":false},"axis":{"orient":"bottom","values":[0,12,24,36,48,60,72,84,96,108,120,132,144,156,168],"tickSize":-4,"labelPadding":12,"labelExpr":"datum.value % 48 == 0 && datum.value < 168 ? (23 + datum.value/24) + '-Mar' : ''","title":"STEREO Ahead","titleX":0,"titleY":30,"titleAlign":"left","titleBaseline":"middle","titleFontSize":13}},
"y":{"field":"k","type":"quantitative","scale":{"type":"log","domain":[0.00001,1000],"nice":false},"axis":{"orient":"left","values":[0.00001,0.0001,0.001,0.01,0.1,1,10,100,1000],"tickSize":{"condition":{"test":"abs(round(log(datum.value)/LN10)) % 2 == 0","value":-15},"value":-7},"labelPadding":23,"labelExpr":"abs(round(log(datum.value)/LN10)) % 2 == 0 ? '10' + (datum.value < 1 ? '⁻' : '') + ['⁰','¹','²','³','⁴','⁵','⁶','⁷','⁸','⁹'][abs(round(log(datum.value)/LN10))] : ''","title":"1/(cm² s sr MeV/nuc.)","titleX":-46,"titleY":90,"titleBaseline":"middle"}},
"color":{"datum":"4 to 12 MeV/n He","scale":{"domain":["4 to 12 MeV/n He","4 to 12 MeV/n CNO","4 to 12 MeV Fe"],"range":["black","blue","red"]},"legend":{"title":null,"columnPadding":19,"labelColor":{"expr":"datum.value == '4 to 12 MeV/n CNO' ? 'blue' : datum.value == '4 to 12 MeV Fe' ? 'red' : 'black'"}}}
}},
{"mark":{"type":"square","size":5,"opacity":1,"clip":true},"transform":[{"filter":{"field":"K","valid":true}}],
"encoding":{
"x":{"field":"h","type":"quantitative","scale":{"domain":[0,168],"nice":false,"zero":false},"axis":{"orient":"top","values":[0,12,24,36,48,60,72,84,96,108,120,132,144,156,168],"tickSize":-4,"labels":false,"title":null}},
"y":{"field":"K","type":"quantitative","scale":{"type":"log","domain":[0.00001,1000],"nice":false},"axis":{"orient":"right","values":[0.00001,0.0001,0.001,0.01,0.1,1,10,100,1000],"tickSize":{"condition":{"test":"abs(round(log(datum.value)/LN10)) % 2 == 0","value":-15},"value":-7},"labels":false,"title":null}},
"color":{"datum":"4 to 12 MeV/n He","scale":{"domain":["4 to 12 MeV/n He","4 to 12 MeV/n CNO","4 to 12 MeV Fe"],"range":["black","blue","red"]},"legend":{"title":null,"columnPadding":19,"labelColor":{"expr":"datum.value == '4 to 12 MeV/n CNO' ? 'blue' : datum.value == '4 to 12 MeV Fe' ? 'red' : 'black'"}}}
}},
{"mark":{"type":"square","size":5,"opacity":1,"clip":true},"transform":[{"filter":{"field":"L","valid":true}}],
"encoding":{
"x":{"field":"h","type":"quantitative","scale":{"domain":[0,168],"nice":false,"zero":false},"axis":null},
"y":{"field":"L","type":"quantitative","scale":{"type":"log","domain":[0.00001,1000],"nice":false},"axis":null},
"color":{"datum":"4 to 12 MeV/n He","scale":{"domain":["4 to 12 MeV/n He","4 to 12 MeV/n CNO","4 to 12 MeV Fe"],"range":["black","blue","red"]},"legend":{"title":null,"columnPadding":19,"labelColor":{"expr":"datum.value == '4 to 12 MeV/n CNO' ? 'blue' : datum.value == '4 to 12 MeV Fe' ? 'red' : 'black'"}}}
}},
{"mark":{"type":"square","size":5,"opacity":1,"clip":true},"transform":[{"filter":{"field":"m","valid":true}}],
"encoding":{
"x":{"field":"h","type":"quantitative","scale":{"domain":[0,168],"nice":false,"zero":false},"axis":{"orient":"bottom","ticks":false,"labels":false,"title":"Start: 23-Mar-2023 00:00 UTC","titleX":212,"titleY":30,"titleAlign":"left","titleBaseline":"middle","titleFontSize":13}},
"y":{"field":"m","type":"quantitative","scale":{"type":"log","domain":[0.00001,1000],"nice":false},"axis":null},
"color":{"datum":"4 to 12 MeV/n CNO","scale":{"domain":["4 to 12 MeV/n He","4 to 12 MeV/n CNO","4 to 12 MeV Fe"],"range":["black","blue","red"]},"legend":{"title":null,"columnPadding":19,"labelColor":{"expr":"datum.value == '4 to 12 MeV/n CNO' ? 'blue' : datum.value == '4 to 12 MeV Fe' ? 'red' : 'black'"}}}
}},
{"mark":{"type":"square","size":5,"opacity":1,"clip":true},"transform":[{"filter":{"field":"n","valid":true}}],
"encoding":{
"x":{"field":"h","type":"quantitative","scale":{"domain":[0,168],"nice":false,"zero":false},"axis":null},
"y":{"field":"n","type":"quantitative","scale":{"type":"log","domain":[0.00001,1000],"nice":false},"axis":null},
"color":{"datum":"4 to 12 MeV Fe","scale":{"domain":["4 to 12 MeV/n He","4 to 12 MeV/n CNO","4 to 12 MeV Fe"],"range":["black","blue","red"]},"legend":{"title":null,"columnPadding":19,"labelColor":{"expr":"datum.value == '4 to 12 MeV/n CNO' ? 'blue' : datum.value == '4 to 12 MeV Fe' ? 'red' : 'black'"}}}
}}
]}
]
}
